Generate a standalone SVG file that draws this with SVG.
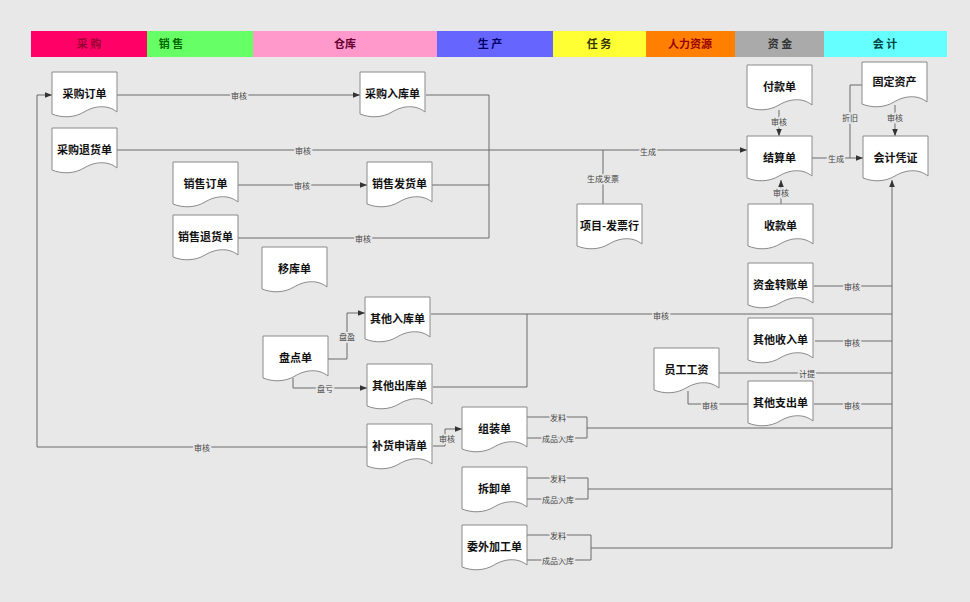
<svg xmlns="http://www.w3.org/2000/svg" width="970" height="602" viewBox="0 0 970 602">
<defs>
<style>
.bg{fill:#E8E8E8}
.doc{fill:#FFFFFF;stroke:#8A8A8A;stroke-width:1}
.nt{font-family:"Noto Sans CJK SC","Noto Sans",sans-serif;font-size:11px;font-weight:bold;fill:#111;text-anchor:middle}
.ht{font-family:"Noto Sans CJK SC","Noto Sans",sans-serif;font-size:11px;font-weight:bold;text-anchor:middle}
.ln{fill:none;stroke:#6A6A6A;stroke-width:1}
.lb{font-family:"Noto Sans CJK SC","Noto Sans",sans-serif;font-size:8px;fill:#444;text-anchor:middle;stroke:#E8E8E8;stroke-width:3;paint-order:stroke;dominant-baseline:central}
</style>
<marker id="ar" viewBox="0 0 10 10" refX="10" refY="5" markerWidth="7" markerHeight="7" orient="auto" markerUnits="userSpaceOnUse">
<path d="M0,1 L10,5 L0,9 Z" fill="#333"/>
</marker>
<path id="d" d="M0,0 H65 V40 C55,32 42,34 32,40 C22,46 10,46 0,42 Z"/>
</defs>
<rect class="bg" x="0" y="0" width="970" height="602"/>

<g id="header">
<rect x="31" y="31" width="116" height="26" fill="#FF0066"/>
<rect x="147" y="31" width="106" height="26" fill="#66FF66"/>
<rect x="253" y="31" width="184" height="26" fill="#FF99CC"/>
<rect x="437" y="31" width="116" height="26" fill="#6666FF"/>
<rect x="553" y="31" width="93" height="26" fill="#FFFF33"/>
<rect x="646" y="31" width="89" height="26" fill="#FF8000"/>
<rect x="735" y="31" width="89" height="26" fill="#AAAAAA"/>
<rect x="824" y="31" width="123" height="26" fill="#66FFFF"/>
<text class="ht" x="89" y="48" fill="#990033">采 购</text>
<text class="ht" x="171" y="48" fill="#006600">销 售</text>
<text class="ht" x="345" y="48" fill="#660033">仓库</text>
<text class="ht" x="490" y="48" fill="#000066">生 产</text>
<text class="ht" x="599" y="48" fill="#333300">任 务</text>
<text class="ht" x="690" y="48" fill="#990000">人力资源</text>
<text class="ht" x="780" y="48" fill="#333333">资 金</text>
<text class="ht" x="885" y="48" fill="#004444">会 计</text>
</g>

<g id="connectors">
<path class="ln" d="M117,95 H360" marker-end="url(#ar)"/>
<path class="ln" d="M426,95 H489 V238"/>
<path class="ln" d="M432,185 H489"/>
<path class="ln" d="M238,238 H489"/>
<path class="ln" d="M238,185 H367" marker-end="url(#ar)"/>
<path class="ln" d="M117,150 H747" marker-end="url(#ar)"/>
<path class="ln" d="M603,150 V204"/>
<path class="ln" d="M779,110 V136" marker-end="url(#ar)"/>
<path class="ln" d="M781,204 V180" marker-end="url(#ar)"/>
<path class="ln" d="M812,158 H863" marker-end="url(#ar)"/>
<path class="ln" d="M895,105 V136" marker-end="url(#ar)"/>
<path class="ln" d="M862,85 H850 V158"/>
<path class="ln" d="M892,548 V180" marker-end="url(#ar)"/>
<path class="ln" d="M814,286 H892"/>
<path class="ln" d="M815,341 H892"/>
<path class="ln" d="M719,373 H892"/>
<path class="ln" d="M814,404 H892"/>
<path class="ln" d="M688,391 V404 H748"/>
<path class="ln" d="M431,314 H892"/>
<path class="ln" d="M433,387 H527 V314"/>
<path class="ln" d="M328,359 H347 V313 H365" marker-end="url(#ar)"/>
<path class="ln" d="M293,378 V388 H367" marker-end="url(#ar)"/>
<path class="ln" d="M433,446 H445 V429 H462" marker-end="url(#ar)"/>
<path class="ln" d="M367,447 H37 V95 H52" marker-end="url(#ar)"/>
<path class="ln" d="M527,417 H587 V438 H527 M587,428 H892"/>
<path class="ln" d="M527,478 H588 V499 H527 M588,489 H892"/>
<path class="ln" d="M527,535 H591 V560 H527 M591,548 H892"/>
<text class="lb" x="239" y="95">审核</text>
<text class="lb" x="363" y="238">审核</text>
<text class="lb" x="302" y="185">审核</text>
<text class="lb" x="303" y="150">审核</text>
<text class="lb" x="648" y="151">生成</text>
<text class="lb" x="603" y="178">生成发票</text>
<text class="lb" x="779" y="121">审核</text>
<text class="lb" x="781" y="192">审核</text>
<text class="lb" x="836" y="158">生成</text>
<text class="lb" x="895" y="117">审核</text>
<text class="lb" x="850" y="117">折旧</text>
<text class="lb" x="852" y="286">审核</text>
<text class="lb" x="852" y="342">审核</text>
<text class="lb" x="807" y="373">计提</text>
<text class="lb" x="852" y="405">审核</text>
<text class="lb" x="710" y="405">审核</text>
<text class="lb" x="661" y="315">审核</text>
<text class="lb" x="347" y="336">盘盈</text>
<text class="lb" x="325" y="388">盘亏</text>
<text class="lb" x="447" y="438">审核</text>
<text class="lb" x="202" y="447">审核</text>
<text class="lb" x="558" y="417">发料</text>
<text class="lb" x="558" y="438">成品入库</text>
<text class="lb" x="558" y="478">发料</text>
<text class="lb" x="558" y="499">成品入库</text>
<text class="lb" x="558" y="535">发料</text>
<text class="lb" x="558" y="560">成品入库</text>
</g>

<g id="n1" transform="translate(52,72)"><use href="#d" class="doc"/><text class="nt" x="32.5" y="26">采购订单</text></g>
<g id="n2" transform="translate(52,128)"><use href="#d" class="doc"/><text class="nt" x="32.5" y="26">采购退货单</text></g>
<g id="n3" transform="translate(360,72)"><use href="#d" class="doc"/><text class="nt" x="32.5" y="26">采购入库单</text></g>
<g id="n4" transform="translate(173,162)"><use href="#d" class="doc"/><text class="nt" x="32.5" y="26">销售订单</text></g>
<g id="n5" transform="translate(367,162)"><use href="#d" class="doc"/><text class="nt" x="32.5" y="26">销售发货单</text></g>
<g id="n6" transform="translate(173,215)"><use href="#d" class="doc"/><text class="nt" x="32.5" y="26">销售退货单</text></g>
<g id="n7" transform="translate(262,247)"><use href="#d" class="doc"/><text class="nt" x="32.5" y="26">移库单</text></g>
<g id="n8" transform="translate(365,297)"><use href="#d" class="doc"/><text class="nt" x="32.5" y="26">其他入库单</text></g>
<g id="n9" transform="translate(263,336)"><use href="#d" class="doc"/><text class="nt" x="32.5" y="26">盘点单</text></g>
<g id="n10" transform="translate(367,364)"><use href="#d" class="doc"/><text class="nt" x="32.5" y="26">其他出库单</text></g>
<g id="n11" transform="translate(367,424)"><use href="#d" class="doc"/><text class="nt" x="32.5" y="26">补货申请单</text></g>
<g id="n12" transform="translate(462,407)"><use href="#d" class="doc"/><text class="nt" x="32.5" y="26">组装单</text></g>
<g id="n13" transform="translate(462,467)"><use href="#d" class="doc"/><text class="nt" x="32.5" y="26">拆卸单</text></g>
<g id="n14" transform="translate(462,525)"><use href="#d" class="doc"/><text class="nt" x="32.5" y="26">委外加工单</text></g>
<g id="n15" transform="translate(577,204)"><use href="#d" class="doc"/><text class="nt" x="32.5" y="26">项目-发票行</text></g>
<g id="n16" transform="translate(747,65)"><use href="#d" class="doc"/><text class="nt" x="32.5" y="26">付款单</text></g>
<g id="n17" transform="translate(747,136)"><use href="#d" class="doc"/><text class="nt" x="32.5" y="26">结算单</text></g>
<g id="n18" transform="translate(748,204)"><use href="#d" class="doc"/><text class="nt" x="32.5" y="26">收款单</text></g>
<g id="n19" transform="translate(862,62)"><use href="#d" class="doc"/><text class="nt" x="32.5" y="24">固定资产</text></g>
<g id="n20" transform="translate(863,136)"><use href="#d" class="doc"/><text class="nt" x="32.5" y="26">会计凭证</text></g>
<g id="n21" transform="translate(748,263)"><use href="#d" class="doc"/><text class="nt" x="32.5" y="26">资金转账单</text></g>
<g id="n22" transform="translate(748,318)"><use href="#d" class="doc"/><text class="nt" x="32.5" y="26">其他收入单</text></g>
<g id="n23" transform="translate(654,348)"><use href="#d" class="doc"/><text class="nt" x="32.5" y="26">员工工资</text></g>
<g id="n24" transform="translate(748,381)"><use href="#d" class="doc"/><text class="nt" x="32.5" y="26">其他支出单</text></g>
</svg>
